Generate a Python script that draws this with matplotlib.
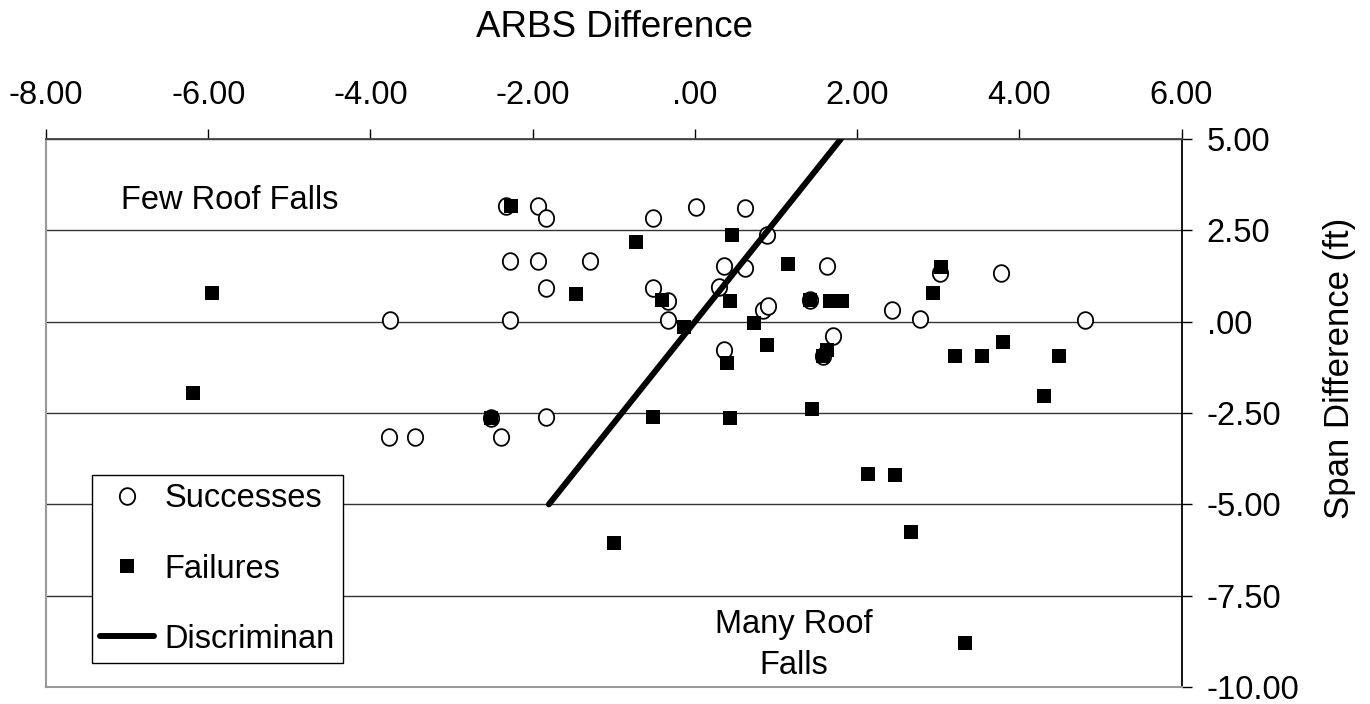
import numpy as np
import matplotlib
matplotlib.use("Agg")
import matplotlib.pyplot as plt
from matplotlib.path import Path

plt.rcParams['font.family'] = ['Liberation Sans', 'DejaVu Sans']
FS = 23.5

# ARBS difference (x) vs span difference in ft (y)
succ_x = [-2.33, -1.94, -1.84, -0.51, 0.02, 0.62, 0.89,
          -2.28, -1.94, -1.29, 0.36, 0.62, 1.63, 3.02, 3.78,
          -1.84, -0.51, -0.33, 0.30, 1.42, 0.84, 0.90, 2.43,
          -3.76, -2.28, -0.33, 2.78, 4.81,
          0.36, 1.70, 1.58,
          -2.51, -1.84, -3.77, -3.45, -2.39]
succ_y = [3.17, 3.17, 2.84, 2.84, 3.13, 3.10, 2.37,
          1.66, 1.66, 1.66, 1.53, 1.48, 1.53, 1.32, 1.32,
          0.93, 0.93, 0.57, 0.94, 0.59, 0.32, 0.43, 0.32,
          0.05, 0.05, 0.05, 0.06, 0.05,
          -0.77, -0.40, -0.95,
          -2.65, -2.62, -3.15, -3.15, -3.15]

fail_x = [-2.27, -0.73, 0.46, 1.15, 3.04,
          -5.95, -1.47, -0.41, 0.43, 1.42, 1.67, 1.81, 2.93,
          -0.14, 0.73,
          0.89, 0.40, 1.63, 1.58, 3.21, 3.54, 3.80, 4.49,
          -6.19, 4.30, -2.51, -0.51, 0.43, 1.45,
          2.14, 2.47, 2.67, -1.00, 3.33]
fail_y = [3.17, 2.19, 2.37, 1.57, 1.50,
          0.78, 0.77, 0.59, 0.57, 0.59, 0.57, 0.57, 0.78,
          -0.14, -0.05,
          -0.64, -1.14, -0.78, -0.95, -0.94, -0.94, -0.55, -0.94,
          -1.96, -2.03, -2.65, -2.62, -2.65, -2.40,
          -4.18, -4.21, -5.75, -6.05, -8.79]

disc_x = [-1.8, 1.8]
disc_y = [-5.0, 5.0]

x_ticks = [-8, -6, -4, -2, 0, 2, 4, 6]
y_ticks = [-10, -7.5, -5, -2.5, 0, 2.5, 5]


def excel_fmt(v):
    s = f"{v:.2f}"
    if abs(v) < 1:
        s = s.replace("0.", ".", 1)
    return s


# slightly tall ellipse, like the original Excel markers
t = np.linspace(0, 2 * np.pi, 61)
ellipse = Path(np.column_stack([0.92 * np.cos(t), np.sin(t)]), closed=True)

W, H = 1370, 704
fig = plt.figure(figsize=(W / 100, H / 100), dpi=100)
ax = fig.add_axes([46 / W, 1 - 687 / H, (1181.5 - 46) / W, (687 - 139) / H])

h_s, = ax.plot(succ_x, succ_y, ls='none', marker=ellipse, ms=12, mfc='white',
               mec='black', mew=1.3, zorder=3, label='Successes')
h_f, = ax.plot(fail_x, fail_y, ls='none', marker='s', ms=10.6, mfc='black',
               mec='black', mew=0, zorder=4, label='Failures')
h_l, = ax.plot(disc_x, disc_y, color='black', lw=4.3, solid_capstyle='round',
               zorder=5, label='Discriminan')

ax.set_xlim(-8, 6)
ax.set_ylim(-10, 5)
ax.xaxis.tick_top()
ax.yaxis.tick_right()
ax.set_xticks(x_ticks)
ax.set_xticklabels([excel_fmt(v) for v in x_ticks])
ax.set_yticks(y_ticks)
ax.set_yticklabels([excel_fmt(v) for v in y_ticks])
ax.tick_params(axis='x', direction='out', length=7, width=1, pad=13,
               labelsize=FS, colors='black')
ax.tick_params(axis='y', direction='out', length=7, width=1, pad=11,
               labelsize=FS, colors='black')
ax.grid(axis='y', color='#333333', lw=1.0, zorder=1)
ax.grid(axis='x', visible=False)

for side in ['left', 'bottom']:
    ax.spines[side].set_color('#999999')
    ax.spines[side].set_linewidth(1.5)
ax.spines['top'].set_color('#444444')
ax.spines['top'].set_linewidth(1.3)
ax.spines['right'].set_color('black')
ax.spines['right'].set_linewidth(1.3)

ax.text(-7.08, 3.33, 'Few Roof Falls', fontsize=FS, ha='left', va='center')
ax.text(1.22, -8.85, 'Many Roof\nFalls', fontsize=FS, ha='center',
        va='center', multialignment='center', linespacing=1.38)

fig.text(614 / W, 1 - 37 / H, 'ARBS Difference', fontsize=26.5,
         ha='center', va='baseline')
fig.text(1340 / W, 1 - 368 / H, 'Span Difference (ft)', fontsize=25,
         rotation=90, ha='center', va='center')

leg = ax.legend(handles=[h_s, h_f, h_l], loc='upper left',
                bbox_to_anchor=(92 / W, 1 - 475 / H),
                bbox_transform=fig.transFigure, fontsize=FS, frameon=True,
                fancybox=False, framealpha=1, edgecolor='black',
                borderpad=0.26, borderaxespad=0, labelspacing=1.2,
                handlelength=1.65, handletextpad=0.3, numpoints=1)
leg.get_frame().set_linewidth(1.0)
leg.set_zorder(6)

fig.savefig('out.png', dpi=100, facecolor='white')
